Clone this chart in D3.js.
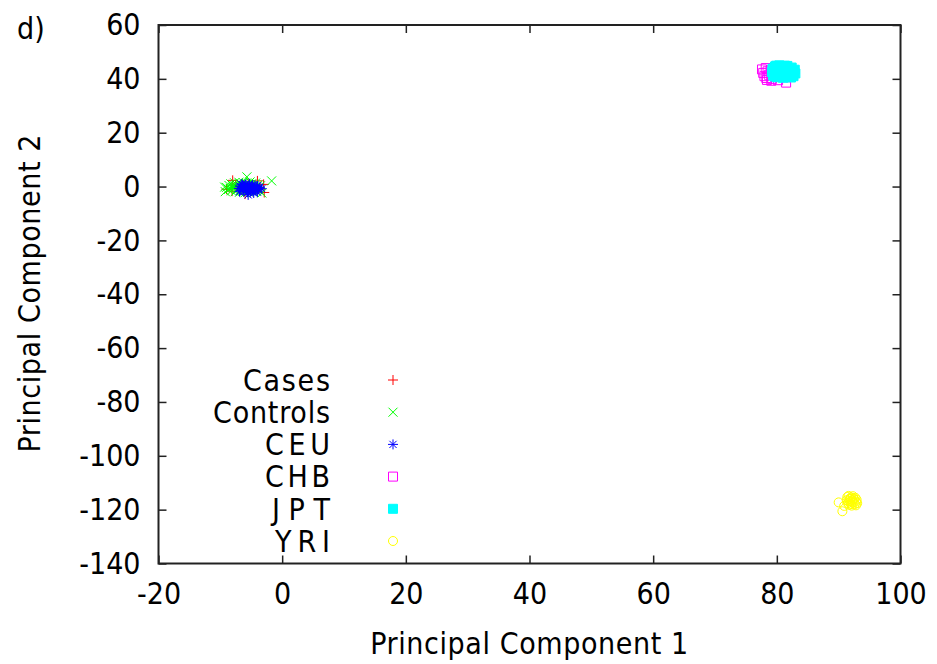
<!DOCTYPE html>
<html>
<head>
<meta charset="utf-8">
<script src="https://d3js.org/d3.v7.min.js"></script>
<style>
  html, body { margin: 0; padding: 0; background: #fff; }
  svg { display: block; }
  text { font-family: "DejaVu Sans Condensed", "DejaVu Sans", sans-serif; fill: #000; }
</style>
</head>
<body>
<svg id="chart" width="937" height="664"></svg>
<script>
// ---- data ----
const xTicks = [-20, 0, 20, 40, 60, 80, 100];
const yTicks = [60, 40, 20, 0, -20, -40, -60, -80, -100, -120, -140];
const seriesNames = ["Cases", "Controls", "CEU", "CHB", "JPT", "YRI"];
const seriesColors = ["#ff0000", "#00ff00", "#0000ff", "#ff00ff", "#00ffff", "#ffff00"];

const cases = [[-7.5,0.5],[-6.5,-0.5],[-5.5,1.0],[-8.0,2.3],[-2.9,-2.2],[-3.0,0.8],[-9.0,-1.0],[-6.0,-2.8],[-4.0,2.1],[-8.1,-1.7]];
const controls = [[-9.0,-0.3],[-8.7,-1.1],[-8.6,0.4],[-8.3,1.0],[-8.2,-1.6],[-8.0,-0.2],[-7.9,-0.7],[-7.7,1.4],[-7.6,-1.9],[-7.5,0.2],[-7.4,0.7],[-7.3,-1.3],[-7.1,-0.4],[-7.0,1.6],[-6.9,-2.1],[-6.8,0.0],[-6.7,1.0],[-6.6,-1.0],[-6.5,0.4],[-6.4,-1.7],[-6.3,1.5],[-6.2,-0.5],[-6.1,0.6],[-6.0,-2.3],[-5.9,0.1],[-5.8,1.2],[-5.7,-1.4],[-5.6,-0.2],[-5.5,-2.0],[-5.4,0.8],[-5.3,-0.8],[-5.2,1.7],[-5.1,0.3],[-5.0,-1.6],[-4.9,1.1],[-4.8,-1.1],[-4.7,-0.1],[-4.6,-2.2],[-4.5,0.5],[-4.4,-0.6],[-4.3,1.3],[-4.2,-1.8],[-4.1,0.1],[-4.0,-1.2],[-3.9,0.7],[-3.8,-0.5],[-3.6,-1.5],[-3.5,0.3],[-8.4,-0.7],[-7.8,0.4],[-6.9,0.5],[-6.0,-0.3],[-5.3,0.0],[-4.6,-0.3],[-7.2,-0.9],[-1.7,2.1],[-9.3,-0.2],[-9.2,-1.9],[-5.7,3.6],[-3.3,-2.4]];
const ceu = [[-7.0,-0.7],[-6.8,0.1],[-6.7,-1.4],[-6.5,-0.3],[-6.4,0.6],[-6.3,-1.0],[-6.2,-1.9],[-6.1,0.0],[-6.0,-0.6],[-5.9,0.8],[-5.8,-1.3],[-5.7,-0.2],[-5.6,-2.1],[-5.5,0.3],[-5.4,-0.9],[-5.3,1.0],[-5.2,-0.5],[-5.1,-1.6],[-5.0,0.1],[-4.9,-1.1],[-4.8,0.5],[-4.7,-1.8],[-4.6,-0.3],[-4.5,-0.8],[-4.4,0.4],[-4.3,-1.4],[-4.2,-0.1],[-4.1,-0.7],[-4.0,0.2],[-3.8,-1.0],[-3.6,-0.3],[-5.5,-3.1],[-6.6,0.9],[-5.0,-0.8],[-5.8,-0.4],[-4.6,-2.4],[-3.3,-0.8],[-6.2,0.3],[-4.0,-2.0],[-6.9,-1.9]];
const chb = [[77.6,43.5],[77.8,42.2],[78.0,41.0],[78.2,44.0],[78.3,40.3],[78.5,42.8],[78.7,41.5],[79.0,43.2],[79.2,40.0],[79.5,42.0],[79.8,44.2],[80.0,40.8],[80.3,43.0],[80.6,41.6],[81.5,38.6],[81.2,42.4],[81.5,40.6],[82.0,43.4],[79.1,39.3],[78.4,39.6],[80.2,39.5]];
const jpt = [[79.2,42.5],[79.3,43.8],[79.4,41.3],[79.7,44.6],[79.8,42.0],[80.0,40.6],[80.2,43.3],[80.4,45.0],[80.5,41.7],[80.7,42.8],[80.9,44.2],[81.0,40.4],[81.2,43.5],[81.4,41.2],[81.5,42.4],[81.7,44.8],[81.9,40.8],[82.0,43.0],[82.2,41.8],[82.4,44.2],[82.5,42.6],[82.7,41.0],[82.9,43.4],[83.0,42.0],[79.9,44.9],[81.3,44.9],[82.3,40.5],[79.6,40.9],[80.8,41.2],[81.8,42.0]];
const yri = [[91.3,-116.5],[91.4,-115.3],[91.5,-117.6],[91.6,-114.9],[91.7,-118.2],[91.8,-116.0],[91.9,-117.0],[92.0,-115.5],[92.1,-118.5],[92.2,-116.6],[92.3,-115.0],[92.4,-117.4],[92.5,-116.1],[92.6,-118.0],[92.7,-115.6],[92.8,-117.0],[92.9,-116.3],[93.0,-117.6],[91.6,-116.9],[92.0,-117.9],[92.4,-115.8],[92.8,-118.4],[91.9,-115.9],[92.2,-117.2],[90.0,-117.3],[90.6,-120.6],[90.9,-118.6]];

const seriesData = [cases, controls, ceu, chb, jpt, yri];
// widths of the legend labels as they appear in the picture (gnuplot spacing)
const legendLabelWidths = [87, 117, 65, 65, 58, 55];

// ---- layout ----
const svg = d3.select("#chart");
const L = 158.5, R = 900.5, T = 25, B = 563.5;
const x = d3.scaleLinear().domain([-20, 100]).range([L, R]);
const y = d3.scaleLinear().domain([-140, 60]).range([B, T]);

const FONT = 30;
const fmt = d => String(d); // plain hyphen-minus as in the picture

// marker shapes
const markers = [
  { d: "M-5,0H5M0,-5V5", fill: false },                       // plus
  { d: "M-4.5,-4.5L4.5,4.5M-4.5,4.5L4.5,-4.5", fill: false }, // cross
  { d: "M-5,0H5M0,-5V5M-3.6,-3.6L3.6,3.6M-3.6,3.6L3.6,-3.6", fill: false }, // asterisk
  { d: "M-4.5,-4.5H4.5V4.5H-4.5Z", fill: false },             // open square
  { d: "M-4.5,-4.5H4.5V4.5H-4.5Z", fill: true },              // filled square
  { d: d3.symbol().type(d3.symbolCircle).size(Math.PI * 4.5 * 4.5)(), fill: false } // open circle
];

function drawMarker(g, i) {
  const m = markers[i];
  g.append("path")
    .attr("d", m.d)
    .attr("fill", m.fill ? seriesColors[i] : "none")
    .attr("stroke", seriesColors[i])
    .attr("stroke-width", 1);
}

// ---- points ----
const plot = svg.append("g");
seriesData.forEach((data, i) => {
  const g = plot.append("g");
  data.forEach(p => {
    const pg = g.append("g").attr("transform", `translate(${x(p[0])},${y(p[1])})`);
    drawMarker(pg, i);
  });
});

// ---- axes ----
const axisColor = "#222";
const gx = svg.append("g").attr("transform", `translate(0,${B})`)
  .call(d3.axisBottom(x).tickValues(xTicks).tickSize(-8).tickPadding(19).tickFormat(fmt));
const gy = svg.append("g").attr("transform", `translate(${L},0)`)
  .call(d3.axisLeft(y).tickValues(yTicks).tickSize(-8).tickPadding(18).tickFormat(fmt));
const gx2 = svg.append("g").attr("transform", `translate(0,${T})`)
  .call(d3.axisTop(x).tickValues(xTicks).tickSize(-8).tickFormat(""));
const gy2 = svg.append("g").attr("transform", `translate(${R},0)`)
  .call(d3.axisRight(y).tickValues(yTicks).tickSize(-8).tickFormat(""));

[gx, gy, gx2, gy2].forEach(g => {
  g.select(".domain").remove();
  g.selectAll(".tick line").attr("stroke", axisColor).attr("stroke-width", 1.5);
  g.selectAll(".tick text").attr("font-size", FONT).attr("fill", "#000");
});

svg.append("rect")
  .attr("x", L).attr("y", T).attr("width", R - L).attr("height", B - T)
  .attr("fill", "none").attr("stroke", axisColor).attr("stroke-width", 2);

// ---- titles ----
svg.append("text").attr("x", (L + R) / 2).attr("y", 654)
  .attr("text-anchor", "middle").attr("font-size", FONT)
  .attr("letter-spacing", 0.6)
  .text("Principal Component 1");

svg.append("text")
  .attr("transform", `translate(40,${(T + B) / 2 - 1}) rotate(-90)`)
  .attr("text-anchor", "middle").attr("font-size", FONT)
  .attr("letter-spacing", 0.6)
  .text("Principal Component 2");

svg.append("text").attr("x", 17).attr("y", 39).attr("font-size", FONT).text("d)");

// ---- legend ----
const legend = svg.append("g");
seriesNames.forEach((name, i) => {
  const cy = 380 + i * 32.2;
  legend.append("text").attr("x", 330).attr("y", cy).attr("dy", "0.36em")
    .attr("text-anchor", "end").attr("font-size", FONT)
    .attr("textLength", legendLabelWidths[i]).attr("lengthAdjust", "spacing")
    .text(name);
  const mg = legend.append("g").attr("transform", `translate(393,${cy})`);
  drawMarker(mg, i);
});
</script>
</body>
</html>
